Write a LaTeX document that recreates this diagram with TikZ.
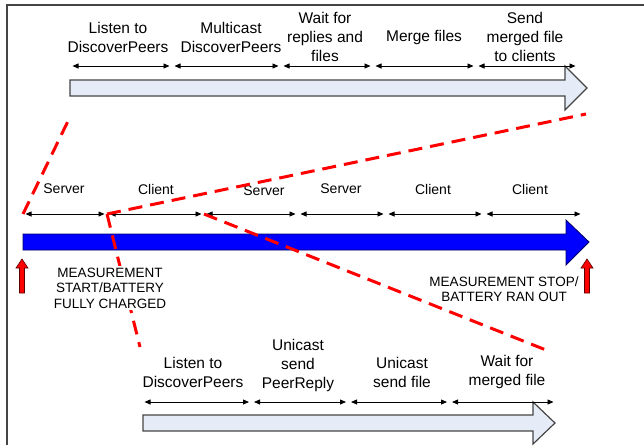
\documentclass[tikz,border=0pt]{standalone}
\usepackage{fontspec}
\setmainfont{Liberation Sans}
\usetikzlibrary{arrows.meta}
\definecolor{cpale}{HTML}{E6ECF7}
\definecolor{cblue}{HTML}{0000FF}
\definecolor{cred}{HTML}{FF0000}
\definecolor{cedge}{HTML}{454545}
\tikzset{
  every picture/.style={x=1pt, y=-1pt},
  phase/.style={font=\fontsize{15.5}{19}\selectfont, align=center, inner sep=0pt},
  role/.style={font=\fontsize{14}{17}\selectfont, inner sep=0pt},
  caps/.style={font=\fontsize{13.5}{15.5}\selectfont, align=center, inner sep=2pt},
  span/.style={{Triangle[length=6pt,width=5pt]}-{Triangle[length=6pt,width=5pt]}, line width=0.8pt, shorten >=2.5pt, shorten <=2.5pt},
  link/.style={draw=cred, line width=3pt, dash pattern=on 14pt off 8pt},
  marker/.style={fill=cred, draw=red!35!black, line width=0.6pt},
}

\begin{document}
\begin{tikzpicture}[
  pale/.style={fill=cpale, draw=cedge, line width=1.2pt},
  deep/.style={fill=cblue, draw=blue!40!black, line width=0.8pt}]
  \useasboundingbox (0,0) rectangle (644,445);
  \draw[cedge, line width=1.4pt] (644,5) -- (7,5) -- (7,445);
  \foreach \x [count=\i from 0] in {70,172,281,373,476,578} \coordinate (t\i) at (\x,66);
  \foreach \x [count=\i from 0] in {23,107,204,298,386,484,583} \coordinate (m\i) at (\x,214);
  \foreach \x [count=\i from 0] in {142,251.5,348.5,449.5,556} \coordinate (b\i) at (\x,402);
  \coordinate (tl) at (69,119);
  \coordinate (tr) at (586,114);
  \coordinate (bl) at (140,347);
  \coordinate (br) at (551,352);
  \path[pale] (70,80) -- (565,80) -- (565,66) -- (587,88) -- (565,110) -- (565,96) -- (70,96) -- cycle;
  \path[deep] (23,234) -- (566,234) -- (566,220) -- (589,242) -- (566,265) -- (566,250) -- (23,250) -- cycle;
  \path[pale] (143,415) -- (533,415) -- (533,402) -- (555,423) -- (533,444) -- (533,431) -- (143,431) -- cycle;
  \foreach \a/\b in {0/1,1/2,2/3,3/4,4/5} \draw[span] (t\a) -- (t\b);
  \foreach \a/\b in {0/1,1/2,2/3,3/4,4/5,5/6} \draw[span] (m\a) -- (m\b);
  \foreach \a/\b in {0/1,1/2,2/3,3/4} \draw[span] (b\a) -- (b\b);
  \node[phase] (p1) at (118,37) {Listen to\\DiscoverPeers};
  \node[phase] (p2) at (231,37) {Multicast\\DiscoverPeers};
  \node[phase] (p3) at (325,37) {Wait for\\replies and\\files};
  \node[phase] (p4) at (424,37) {Merge files};
  \node[phase] (p5) at (525,37) {Send\\merged file\\to clients};
  \node[role] (r1) at (64,189) {Server};
  \node[role] (r2) at (156,189) {Client};
  \node[role] (r3) at (264,191) {Server};
  \node[role] (r4) at (341,189) {Server};
  \node[role] (r5) at (433,189) {Client};
  \node[role] (r6) at (530,189) {Client};
  \node[phase] (q1) at (193,372) {Listen to\\DiscoverPeers};
  \node[phase] (q2) at (298,365) {Unicast\\send\\PeerReply};
  \node[phase] (q3) at (402,372) {Unicast\\send file};
  \node[phase] (q4) at (507,372) {Wait for\\merged file};
  \foreach \x in {22,587}
    \path[marker] ({\x-2.5},293) -- ({\x-2.5},268) -- ({\x-6},268) -- (\x,259) -- ({\x+6},268) -- ({\x+2.5},268) -- ({\x+2.5},293) -- cycle;
  \draw[link] (m0) -- (tl);
  \draw[link] (m1) -- (tr);
  \draw[link] (m1) -- (bl);
  \draw[link] (m2) -- (br);
  \node[caps, fill=white] (start) at (110,288) {MEASUREMENT\\START/BATTERY\\FULLY CHARGED};
  \node[caps] (stop) at (504,289) {MEASUREMENT STOP/\\BATTERY RAN OUT};
\end{tikzpicture}
\end{document}
